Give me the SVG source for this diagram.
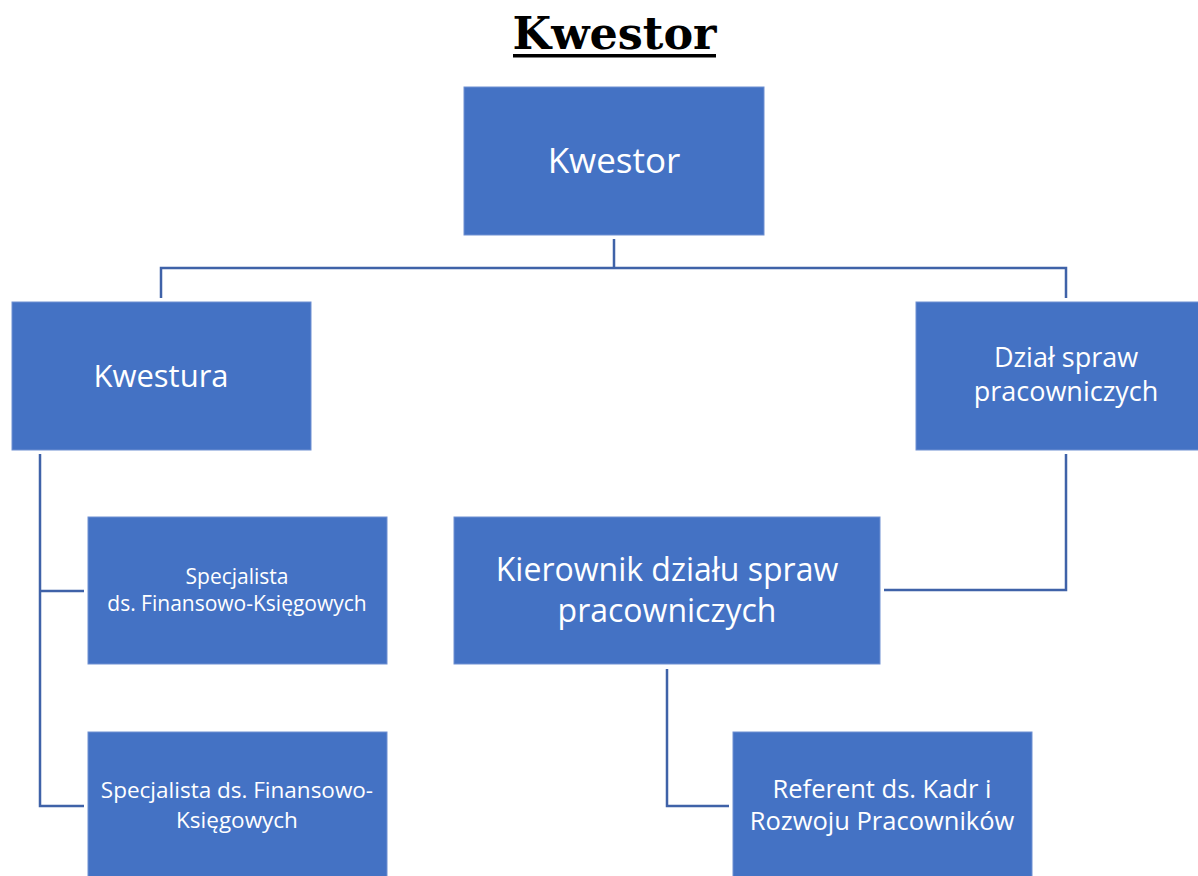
<svg xmlns="http://www.w3.org/2000/svg" width="1198" height="876" viewBox="0 0 1198 876">
<style>
.box{fill:#4472c4;stroke:#6f90d2;stroke-width:1}
.t{fill:#ffffff;font-family:"Open Sans","Noto Sans",sans-serif;text-anchor:middle}
.c{fill:none;stroke:#3f62a8;stroke-width:2.5}
.title{font-family:"DejaVu Serif","Liberation Serif",serif;font-weight:bold;font-size:44.5px;fill:#000;text-anchor:middle}
</style>
<rect width="1198" height="876" fill="#ffffff"/>
<g id="title">
<text class="title" x="614.5" y="49">Kwestor</text>
<rect x="513" y="54" width="203" height="3.5" fill="#000"/>
</g>
<g id="connectors">
<path class="c" d="M614 239 V268 M161 298 V268 H1066 V298"/>
<path class="c" d="M40 454 V806 H84 M40 591 H84"/>
<path class="c" d="M884 590 H1066 V454"/>
<path class="c" d="M667 669 V806 H729"/>
</g>
<g id="n-kwestor">
<rect class="box" x="464" y="87" width="300" height="148"/>
<text class="t" x="614" y="173" font-size="35">Kwestor</text>
</g>
<g id="n-kwestura">
<rect class="box" x="12" y="302" width="299" height="148"/>
<text class="t" x="161" y="387" font-size="31">Kwestura</text>
</g>
<g id="n-dzial">
<rect class="box" x="916" y="302" width="283" height="148"/>
<text class="t" x="1066" y="367" font-size="27">Dział spraw</text>
<text class="t" x="1066" y="401" font-size="27">pracowniczych</text>
</g>
<g id="n-spec1">
<rect class="box" x="88" y="517" width="299" height="147"/>
<text class="t" x="237" y="584" font-size="21">Specjalista</text>
<text class="t" x="237" y="611" font-size="21">ds. Finansowo-Księgowych</text>
</g>
<g id="n-kier">
<rect class="box" x="454" y="517" width="426" height="147"/>
<text class="t" x="667" y="581" font-size="32">Kierownik działu spraw</text>
<text class="t" x="667" y="622" font-size="32">pracowniczych</text>
</g>
<g id="n-spec2">
<rect class="box" x="88" y="732" width="299" height="150"/>
<text class="t" x="237" y="798" font-size="22.5">Specjalista ds. Finansowo-</text>
<text class="t" x="237" y="828" font-size="22.5">Księgowych</text>
</g>
<g id="n-ref">
<rect class="box" x="733" y="732" width="299" height="150"/>
<text class="t" x="882" y="798" font-size="25.5">Referent ds. Kadr i</text>
<text class="t" x="882" y="830" font-size="25.5">Rozwoju Pracowników</text>
</g>
</svg>
